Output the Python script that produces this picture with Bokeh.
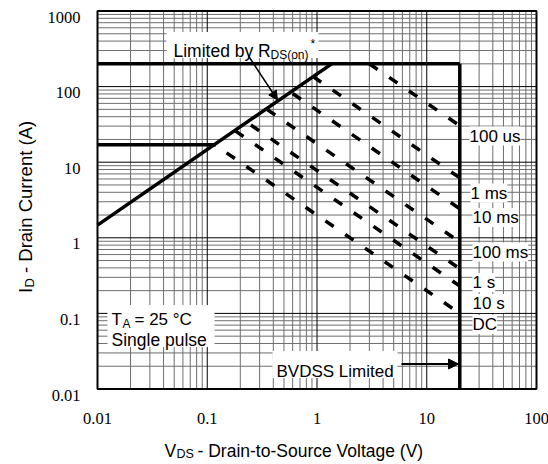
import math
from bokeh.plotting import figure
from bokeh.models import Label, Arrow, NormalHead, BoxAnnotation, Range1d
from bokeh.embed import file_html
from bokeh.resources import INLINE

# ---------------- data ----------------
x_ticks = [0.01, 0.1, 1, 10, 100]
x_tick_labels = ["0.01", "0.1", "1", "10", "100"]
y_ticks = [0.01, 0.1, 1, 10, 100, 1000]
y_tick_labels = ["0.01", "0.1", "1", "10", "100", "1000"]

# package current limit (V, A)
pkg_v = [0.01, 20.0]
pkg_i = [200.0, 200.0]
# continuous current limit
cont_v = [0.01, 0.12]
cont_i = [17.0, 17.0]
# RDS(on) limit
rds_v = [0.01, 1.36]
rds_i = [1.47, 200.0]
# BVDSS limit
bv_v = [20.0, 20.0]
bv_i = [200.0, 0.01]

# pulse-width power lines
pulse_labels = ["100 us", "1 ms", "10 ms", "100 ms", "1 s", "10 s", "DC"]
pulse_v_start = [3.0, 0.92, 0.60, 0.35, 0.25, 0.18, 0.15]
pulse_i_start = [200.0, 136.0, 81.0, 50.0, 31.0, 26.0, 13.3]
pulse_v_end = [20.0, 20.0, 20.0, 20.0, 20.0, 20.0, 20.0]
pulse_i_end = [30.4, 6.2, 2.42, 0.88, 0.39, 0.23, 0.10]

# ---------------- layout helpers (page pixels -> data) ----------------
FONT = "Liberation Sans"
FS = "17px"
FS_SUB = "12px"
FS_TICK = "16.5px"
W, H = 548, 464
FL, FR, FT, FB = 97, 536, 15, 393   # plot box in page pixels
DY = 4.5                            # observed vertical offset of the canvas in the page


def PX(px):
    return 10 ** (math.log10(x_ticks[0]) + (px - FL) / ((FR - FL) / 4))


def PY(py):
    return 10 ** (math.log10(y_ticks[0]) + (FB - py) / ((FB - FT) / 5))


# the frame covers the whole canvas so that titles outside the plot box are not clipped
p = figure(width=W, height=H, x_axis_type="log", y_axis_type="log",
           x_axis_location=None, y_axis_location=None, title=None,
           x_range=Range1d(PX(0), PX(W)), y_range=Range1d(PY(H + DY), PY(DY)),
           output_backend="svg", toolbar_location=None, min_border=0,
           min_border_left=0, min_border_right=0, min_border_top=0, min_border_bottom=0)
p.outline_line_color = None
p.background_fill_color = "white"
p.border_fill_color = "white"
p.grid.visible = False

# grid lines (log decades and 2..9 subdivisions) within the plot box
minor_x = [m * 10 ** e for e in range(-2, 2) for m in range(2, 10)]
minor_y = [m * 10 ** e for e in range(-2, 3) for m in range(2, 10)]
p.segment(x0=minor_x, y0=[y_ticks[0]] * len(minor_x), x1=minor_x, y1=[y_ticks[-1]] * len(minor_x),
          line_color="#6e6e6e", line_width=1)
p.segment(x0=[x_ticks[0]] * len(minor_y), y0=minor_y, x1=[x_ticks[-1]] * len(minor_y), y1=minor_y,
          line_color="#6e6e6e", line_width=1)
p.segment(x0=x_ticks, y0=[y_ticks[0]] * len(x_ticks), x1=x_ticks, y1=[y_ticks[-1]] * len(x_ticks),
          line_color="black", line_width=1)
p.segment(x0=[x_ticks[0]] * len(y_ticks), y0=y_ticks, x1=[x_ticks[-1]] * len(y_ticks), y1=y_ticks,
          line_color="black", line_width=1)

# tick labels
p.text(x=x_ticks, y=[y_ticks[0]] * len(x_ticks), text=x_tick_labels, y_offset=29.5,
       text_align="center", text_baseline="alphabetic", text_font="Liberation Sans",
       text_font_size=FS_TICK, text_color="black")
p.text(x=[x_ticks[0]] * len(y_ticks), y=y_ticks, text=y_tick_labels, x_offset=-17, y_offset=6,
       text_align="right", text_baseline="alphabetic", text_font="Liberation Sans",
       text_font_size=FS_TICK, text_color="black")

# limit lines
p.line(pkg_v, pkg_i, line_width=3.5, color="black")
p.line(cont_v, cont_i, line_width=3.5, color="black")
p.line(rds_v, rds_i, line_width=3.5, color="black")
p.line(bv_v, bv_i, line_width=3.5, color="black")

# pulse lines
p.segment(x0=pulse_v_start, y0=pulse_i_start, x1=pulse_v_end, y1=pulse_i_end,
          line_width=3.5, color="black", line_dash="10 14", line_cap="butt")

# plot box outline
p.add_layout(BoxAnnotation(left=x_ticks[0], right=x_ticks[-1], bottom=y_ticks[0], top=y_ticks[-1],
                           fill_color=None, fill_alpha=0, line_color="black", line_width=2,
                           line_alpha=1))

# white boxes behind annotations
for l, r, t, b in [(166, 318, 36, 62), (107, 214, 309, 351), (272, 397, 355, 382)]:
    p.add_layout(BoxAnnotation(left=PX(l), right=PX(r), top=PY(t), bottom=PY(b),
                               fill_color="white", fill_alpha=1, line_color=None))


def txt(px, py, s, size=FS, bg=None, angle=0.0):
    lab = Label(x=PX(px), y=PY(py), text=s, text_font=FONT, text_font_size=size,
                text_color="black", text_align="left", text_baseline="alphabetic",
                angle=angle)
    if bg:
        lab.background_fill_color = bg
    p.add_layout(lab)


# pulse labels
label_px = [469, 470, 472, 472, 472, 472, 472]
label_base = [140, 197, 221.5, 256, 286.5, 307.5, 328.5]
for s, lx, ly in zip(pulse_labels, label_px, label_base):
    txt(lx, ly, s, bg="white")

# Limited by RDS(on)*
txt(173, 54.5, "Limited by R", size="17.5px")
txt(270, 58.5, "DS(on)", size=FS_SUB)
txt(310, 48, "*", size=FS_SUB)
p.add_layout(Arrow(end=NormalHead(size=9, fill_color="black", line_color="black"),
                   x_start=PX(248), y_start=PY(60), x_end=PX(277), y_end=PY(104),
                   line_width=1.5, line_color="black"))

# TA / single pulse
txt(111, 323.5, "T")
txt(122, 328, "A", size=FS_SUB)
txt(134, 323.5, "= 25 °C")
txt(111, 344, "Single pulse", size="17.5px")

# BVDSS
txt(276, 375, "BVDSS Limited")
p.add_layout(Arrow(end=NormalHead(size=10, fill_color="black", line_color="black"),
                   x_start=PX(401), y_start=PY(368), x_end=PX(458), y_end=PY(368),
                   line_width=2, line_color="black"))

# axis titles
txt(164, 455, "V", size="17.5px")
txt(176, 458, "DS", size="12.5px")
txt(197, 455, "- Drain-to-Source Voltage (V)", size="17.5px")

txt(25, 297, "I", size="18.5px", angle=math.pi / 2)
txt(28.5, 291.6, "D", size="13px", angle=math.pi / 2)
txt(25, 277, "- Drain Current (A)", size="18.5px", angle=math.pi / 2)

open("out.html", "w").write(file_html(p, INLINE))
